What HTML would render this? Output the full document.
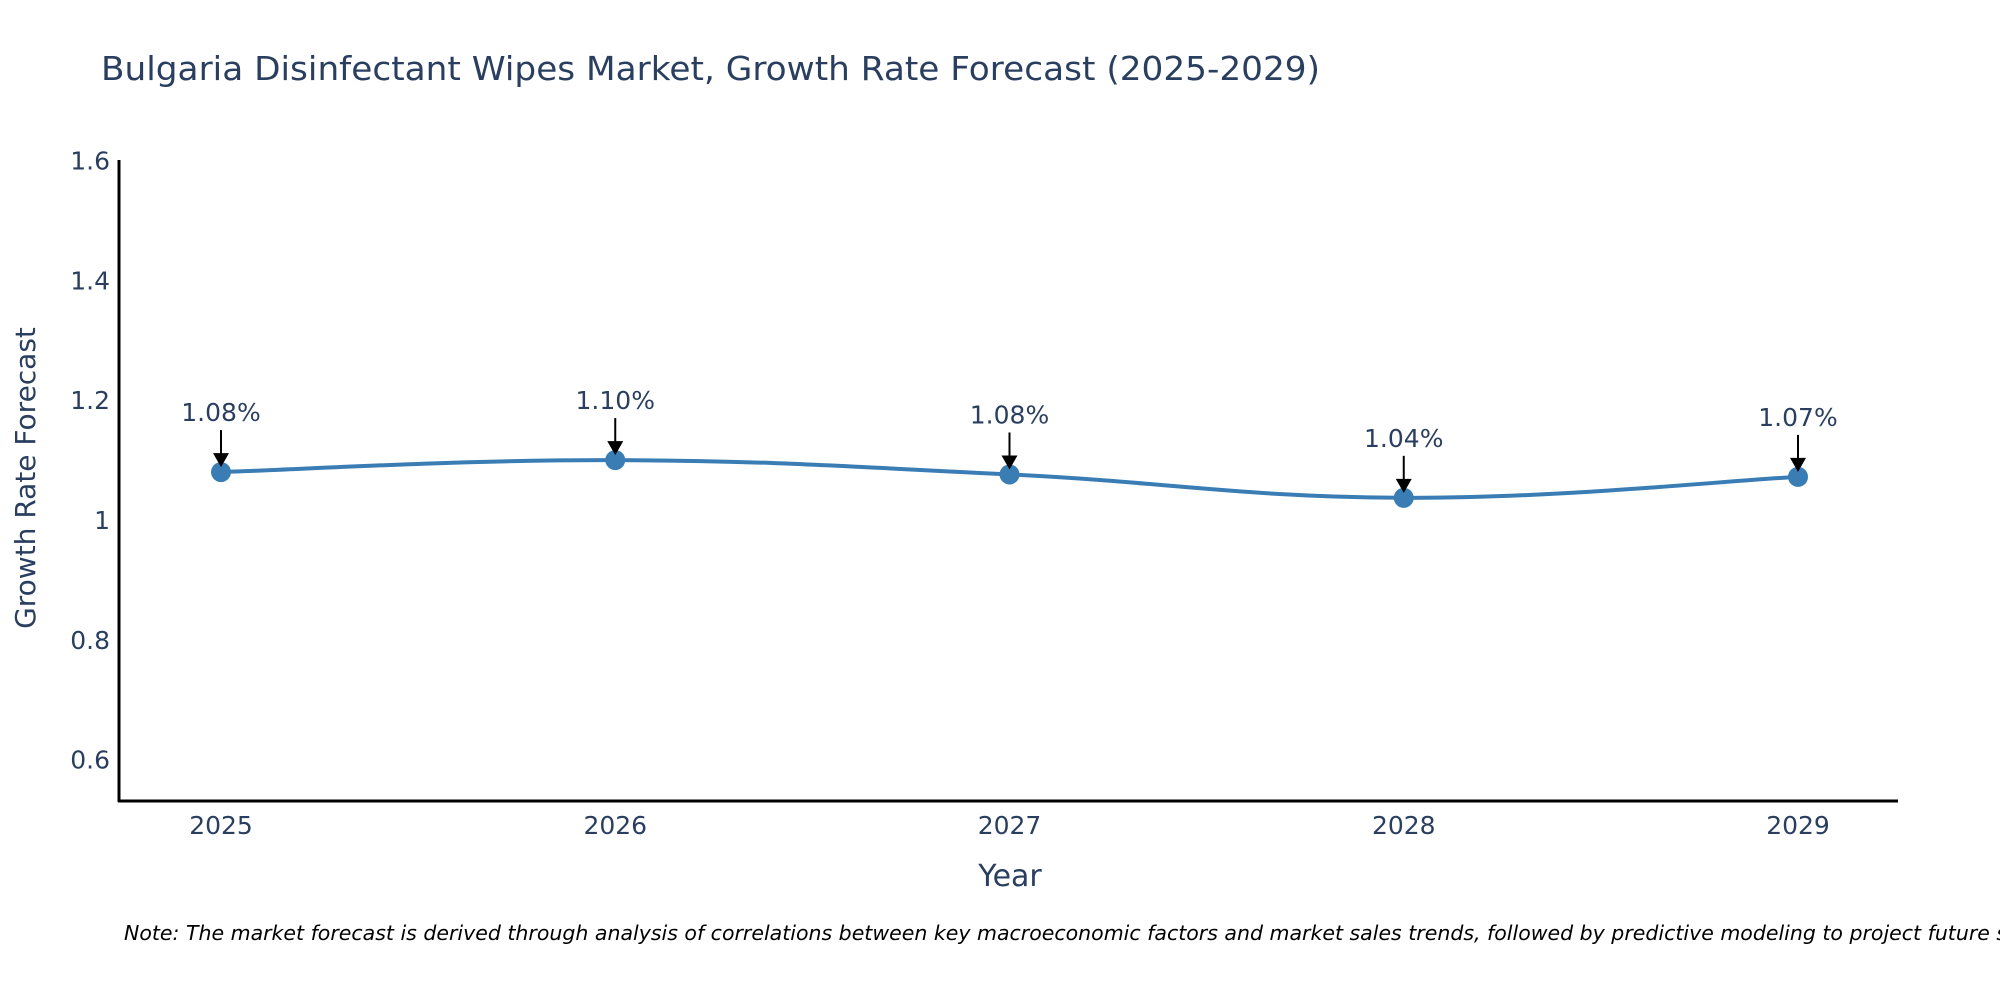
<!DOCTYPE html>
<html><head><meta charset="utf-8"><title>Bulgaria Disinfectant Wipes Market</title>
<style>
html,body{margin:0;padding:0;background:#fff;}
svg{display:block;font-family:"DejaVu Sans","Liberation Sans",sans-serif;}
</style></head>
<body>
<svg id="chart" width="2000" height="1000" viewBox="0 0 2000 1000" xmlns="http://www.w3.org/2000/svg">
<rect width="2000" height="1000" fill="#fff"/>
<text x="101" y="80" font-size="33" fill="#2a3f5f" textLength="1219" lengthAdjust="spacingAndGlyphs">Bulgaria Disinfectant Wipes Market, Growth Rate Forecast (2025-2029)</text>
<g id="yticks"></g>
<g id="xticks"></g>
<line x1="119" y1="160" x2="119" y2="802" stroke="#000" stroke-width="3"/>
<line x1="118" y1="801" x2="1898" y2="801" stroke="#000" stroke-width="3"/>
<text transform="translate(35,478) rotate(-90)" text-anchor="middle" font-size="28" fill="#2a3f5f">Growth Rate Forecast</text>
<text x="1010" y="886" text-anchor="middle" font-size="30" fill="#2a3f5f">Year</text>
<g id="series"></g>
<g id="annots"></g>
<text x="124" y="940" font-size="20.5" font-style="italic" fill="#000">Note: The market forecast is derived through analysis of correlations between key macroeconomic factors and market sales trends, followed by predictive modeling to project future sales.</text>
</svg>
<script>
const years = ["2025","2026","2027","2028","2029"];
const values = [1.08, 1.10, 1.076, 1.037, 1.072];
const yTicks = [0.6, 0.8, 1.0, 1.2, 1.4, 1.6];
const yTickLabels = ["0.6","0.8","1","1.2","1.4","1.6"];

const NS = "http://www.w3.org/2000/svg";
function xScale(i){ return 221 + i * 394.25; }
function yScale(v){ return 520 - (v - 1.0) * 599; }
function mk(tag, attrs, parent){
  const e = document.createElementNS(NS, tag);
  for (const k in attrs) e.setAttribute(k, attrs[k]);
  parent.appendChild(e);
  return e;
}
const yg = document.getElementById('yticks');
yTicks.forEach((t, i) => {
  const el = mk('text', {x: 110, y: yScale(t) + 9, 'text-anchor': 'end', 'font-size': 25, fill: '#2a3f5f'}, yg);
  
  
  el.textContent = yTickLabels[i];
});
const xg = document.getElementById('xticks');
years.forEach((y, i) => {
  const el = mk('text', {x: xScale(i), y: 834, 'text-anchor': 'middle', 'font-size': 25, fill: '#2a3f5f'}, xg);
  
  
  el.textContent = y;
});
const pts = values.map((v, i) => [xScale(i), yScale(v)]);
let d = `M${pts[0][0]},${pts[0][1]}`;
const s = 0.2;
for (let i = 0; i < pts.length - 1; i++) {
  const p0 = pts[Math.max(0, i - 1)], p1 = pts[i], p2 = pts[i + 1], p3 = pts[Math.min(pts.length - 1, i + 2)];
  const c1 = [p1[0] + (p2[0] - p0[0]) * s, p1[1] + (p2[1] - p0[1]) * s];
  const c2 = [p2[0] - (p3[0] - p1[0]) * s, p2[1] - (p3[1] - p1[1]) * s];
  d += ` C${c1[0]},${c1[1]} ${c2[0]},${c2[1]} ${p2[0]},${p2[1]}`;
}
const sg = document.getElementById('series');
const line = mk('path', {d: d, fill: 'none', stroke: '#3a7db4', 'stroke-width': 4}, sg);


pts.forEach((p, i) => {
  const c = mk('circle', {cx: p[0], cy: p[1], r: 10, fill: '#3a7db4'}, sg);
  
  
});
const ag = document.getElementById('annots');
pts.forEach((p, i) => {
  const ln = mk('line', {x1: p[0], y1: p[1] - 42, x2: p[0], y2: p[1] - 18, stroke: '#000', 'stroke-width': 2}, ag);
  
  
  const hd = mk('polygon', {points: `${p[0]-8},${p[1]-19} ${p[0]+8},${p[1]-19} ${p[0]},${p[1]-5}`, fill: '#000'}, ag);
  
  
  const t = mk('text', {x: p[0], y: p[1] - 51, 'text-anchor': 'middle', 'font-size': 25, fill: '#2a3f5f'}, ag);
  
  
  t.textContent = values[i].toFixed(2) + '%';
});
</script>
</body></html>
